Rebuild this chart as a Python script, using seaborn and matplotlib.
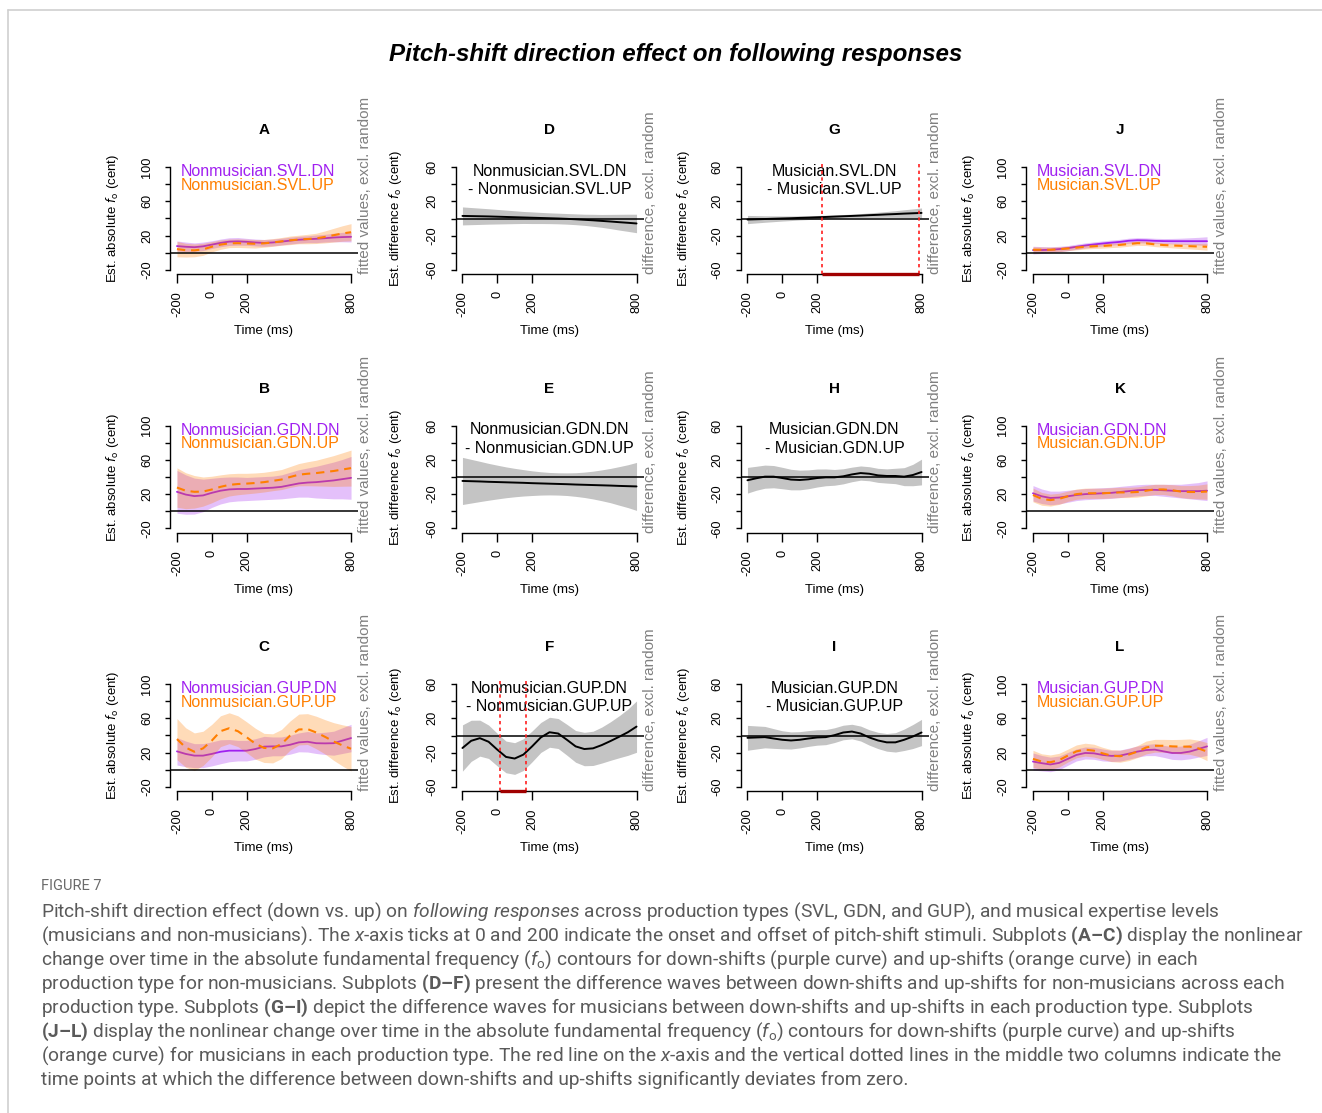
import matplotlib
matplotlib.use("Agg")
import matplotlib.pyplot as plt
from matplotlib.lines import Line2D
import seaborn as sns

sns.set_theme(style="white")
plt.rcParams["font.family"] = ["Liberation Sans", "DejaVu Sans"]
plt.rcParams["mathtext.fontset"] = "custom"
plt.rcParams["mathtext.rm"] = "Roboto"
plt.rcParams["mathtext.it"] = "Roboto:italic"
plt.rcParams["mathtext.bf"] = "Roboto:bold"
plt.rcParams["text.color"] = "black"

# ---- data ----
time_ms = [-200, -150, -100, -50, 0, 50, 100, 150, 200, 250, 300,
           350, 400, 450, 500, 550, 600, 650, 700, 750, 800]

# A: Nonmusician SVL
a_dn_fit = [7.8, 7.0, 6.5, 7.5, 9.5, 11.5, 13.0, 13.3, 12.8, 12.0, 11.5, 12.0, 13.0, 14.2, 15.2, 15.8, 16.3, 17.0, 17.8, 18.3, 18.6]
a_dn_ci = [6.0, 5.5, 5.0, 5.0, 4.5, 4.5, 4.5, 4.5, 4.0, 4.0, 4.0, 4.0, 4.0, 4.0, 4.0, 4.0, 4.5, 4.5, 5.0, 5.5, 6.0]
a_up_fit = [4.3, 3.0, 2.8, 4.0, 7.0, 9.5, 11.0, 11.2, 10.8, 10.5, 11.0, 12.0, 13.3, 14.5, 15.5, 16.0, 16.8, 18.5, 20.5, 22.5, 24.0]
a_up_ci = [9.0, 8.0, 7.5, 7.0, 6.0, 5.5, 5.0, 5.0, 5.0, 5.0, 4.5, 4.5, 4.5, 5.0, 5.0, 5.5, 6.0, 7.0, 8.0, 9.0, 10.0]

# B: Nonmusician GDN
b_dn_fit = [22.7, 19.5, 17.7, 18.5, 21.5, 24.0, 25.5, 26.0, 26.0, 26.5, 27.0, 27.5, 28.5, 30.5, 32.5, 33.5, 34.0, 35.0, 36.0, 37.5, 39.0]
b_dn_ci = [25, 23, 21, 19, 17, 15.5, 14.5, 14, 13.5, 13.5, 13.5, 13.5, 14, 15, 16, 17, 18.5, 20, 21.5, 23, 25]
b_up_fit = [27.7, 24.0, 22.7, 23.0, 25.4, 28.5, 30.8, 31.8, 32.3, 33.0, 34.0, 35.5, 37.0, 40.0, 42.7, 43.8, 44.6, 45.8, 47.0, 48.7, 50.4]
b_up_ci = [23, 21, 19, 17, 15.5, 14, 13, 12.5, 12, 11.7, 11.5, 11.5, 11.7, 12.2, 13, 14, 15, 16.5, 18, 19.5, 21]

# C: Nonmusician GUP
c_dn_fit = [21.5, 18.5, 16.5, 16.5, 18.5, 21.0, 22.3, 22.3, 22.3, 24.2, 27.0, 27.3, 27.3, 29.2, 32.0, 32.7, 31.0, 30.8, 31.0, 34.0, 37.0]
c_dn_ci = [16, 15, 14, 14, 14, 14, 13, 12, 12, 12, 12, 11, 11, 11, 11, 12, 12, 13, 14, 15, 16]
c_up_fit = [35.8, 26.0, 21.0, 25.0, 34.0, 45.0, 48.5, 45.0, 38.0, 30.5, 25.5, 25.0, 30.0, 40.0, 47.0, 47.5, 43.5, 38.5, 33.0, 28.5, 24.5]
c_up_ci = [24, 23, 22, 20, 19, 18, 18, 18, 18, 18, 17, 17, 17, 17, 18, 18, 19, 20, 22, 24, 26]

# D, E, F: Nonmusician DN - UP
d_fit = [3.0, 2.8, 2.6, 2.4, 2.1, 1.8, 1.5, 1.2, 0.9, 0.6, 0.3, 0.0, -0.4, -0.9, -1.5, -2.1, -2.8, -3.5, -4.3, -5.0, -5.8]
d_ci = [10.5, 10, 9.5, 9, 8.5, 8, 7.5, 7, 6.8, 6.5, 6.3, 6.2, 6.2, 6.3, 6.5, 7, 7.5, 8.3, 9.2, 10, 10.8]
e_fit = [-4.6, -4.9, -5.2, -5.6, -5.9, -6.2, -6.5, -6.8, -7.2, -7.5, -7.8, -8.1, -8.4, -8.8, -9.1, -9.4, -9.7, -10.0, -10.4, -10.7, -11.0]
e_ci = [27.5, 25.5, 23.5, 21.5, 19.7, 18, 16.6, 15.4, 14.4, 13.6, 13.1, 13, 13.2, 13.8, 14.8, 16.2, 18, 20, 22.5, 25, 28]
f_fit = [-14.6, -6.2, -3.1, -7.3, -16.5, -25.0, -26.9, -22.3, -12.7, -2.3, 3.8, 2.3, -5.0, -12.7, -15.8, -15.0, -11.2, -6.5, -1.5, 3.8, 10.4]
f_ci = [27, 24, 21, 19.5, 19, 18.5, 18.5, 18.5, 18, 17.5, 17.5, 17.5, 18, 18.5, 19.5, 20, 21, 22.5, 24.5, 27, 30]

# G, H, I: Musician DN - UP
g_fit = [-1.2, -0.9, -0.6, -0.3, 0.0, 0.3, 0.7, 1.0, 1.4, 1.8, 2.2, 2.6, 3.0, 3.4, 3.9, 4.3, 4.8, 5.2, 5.7, 6.1, 6.5]
g_ci = [4.8, 4.3, 3.8, 3.4, 3.0, 2.7, 2.4, 2.2, 2.1, 2.0, 2.0, 2.0, 2.1, 2.3, 2.6, 3.0, 3.4, 3.9, 4.5, 5.1, 5.8]
h_fit = [-3.8, -1.5, 0.4, 0.4, -1.2, -3.0, -3.5, -2.7, -1.2, -0.4, -0.4, 0.8, 3.0, 4.6, 3.8, 1.9, 1.2, 1.2, 0.4, 2.3, 5.8]
h_ci = [15, 14, 13.5, 13, 12.5, 12, 11.5, 11, 10.5, 9.8, 9.2, 8.8, 8.5, 8.3, 8.2, 8.2, 8.3, 9, 10.5, 12.5, 15]
i_fit = [-2.7, -2.3, -1.9, -3.5, -5.0, -5.8, -5.0, -3.5, -2.3, -1.9, 0.4, 3.5, 4.6, 2.3, -2.3, -5.8, -8.0, -8.0, -5.0, -1.2, 3.5]
i_ci = [14.5, 13.5, 12.5, 11.5, 10.5, 10, 9.5, 9.2, 9, 8.8, 8.6, 8.5, 8.5, 8.7, 9, 9.5, 10.3, 11.3, 12.5, 14, 15.3]

# J: Musician SVL
j_dn_fit = [3.1, 3.2, 3.5, 4.3, 5.4, 7.0, 8.5, 9.7, 10.8, 11.8, 12.7, 14.0, 14.6, 14.4, 13.9, 13.6, 13.5, 13.5, 13.5, 13.5, 13.5]
j_dn_ci = [4.5, 4, 3.5, 3.2, 3, 3, 3, 3, 3, 3, 3, 3, 3, 3, 3, 3, 3.2, 3.5, 4, 4.5, 5.2]
j_up_fit = [3.5, 3.5, 3.5, 4.1, 5.0, 6.0, 7.0, 7.6, 8.0, 8.6, 9.2, 10.2, 11.2, 11.0, 9.8, 9.0, 8.5, 8.1, 7.7, 7.3, 7.0]
j_up_ci = [3.5, 3.2, 3, 2.8, 2.6, 2.6, 2.6, 2.6, 2.6, 2.6, 2.6, 2.6, 2.6, 2.6, 2.6, 2.6, 2.8, 3, 3.2, 3.5, 4]

# K: Musician GDN
k_dn_fit = [21.0, 17.5, 15.5, 16.0, 17.5, 19.0, 20.0, 20.5, 21.0, 21.5, 22.5, 23.5, 24.5, 25.0, 25.0, 24.5, 24.0, 23.5, 23.5, 23.5, 24.0]
k_dn_ci = [9, 8.5, 8, 7.5, 7, 6.5, 6.5, 6.5, 6.5, 6.5, 6.5, 6.5, 6.5, 6.5, 6.5, 7, 7.5, 8, 9, 10, 11.5]
k_up_fit = [19.0, 14.5, 13.0, 14.5, 17.5, 20.0, 21.0, 21.0, 21.0, 21.5, 22.0, 22.0, 22.5, 24.0, 25.5, 25.5, 24.5, 23.0, 22.5, 22.5, 23.0]
k_up_ci = [8, 7.5, 7, 6.5, 6, 6, 6, 6, 6, 6, 6, 6, 6, 6, 6, 6, 6.5, 7, 7.5, 8, 9]

# L: Musician GUP
l_dn_fit = [9.6, 7.7, 6.2, 8.0, 12.7, 17.3, 19.6, 19.2, 17.3, 16.2, 16.5, 18.8, 21.2, 23.0, 23.5, 21.5, 19.6, 19.6, 21.2, 24.2, 27.3]
l_dn_ci = [10, 9, 8.5, 8, 7.5, 7, 7, 7, 7, 6.5, 6.5, 6.5, 6.5, 6.5, 7, 7, 7.5, 8, 8.5, 9.5, 10.5]
l_up_fit = [12.7, 9.6, 8.8, 11.2, 16.5, 21.5, 23.5, 22.3, 19.2, 16.5, 15.8, 17.7, 21.2, 26.0, 28.0, 28.0, 27.3, 27.0, 27.0, 25.0, 21.2]
l_up_ci = [10, 9, 8.5, 8, 7.5, 7.5, 7.5, 7.5, 7, 7, 7, 7, 7, 7.5, 7.5, 7.5, 8, 8.5, 9, 9.5, 10.5]

# significant DN-UP intervals (ms)
sig_f = [15, 165]
sig_g = [230, 785]

x_ticks = [-200, 0, 200, 800]

# ---- styling ----
W, H = 1322, 1113
PURPLE = "#a020f0"
ORANGE = "#ff7f00"
BAND_GRAY = "#c4c4c4"
SIDE_GRAY = "#808080"
CAPTION_FONT = ["Roboto", "DejaVu Sans"]

fig = plt.figure(figsize=(W / 100, H / 100), dpi=100)
fig.patch.set_facecolor("white")

col_left = [170, 455.5, 740.5, 1026]
row_top = [163, 421.5, 680]
ax_w, ax_h = 188, 111


def make_axes(col, row):
    left = col_left[col]
    top = row_top[row]
    return fig.add_axes([left / W, 1 - (top + ax_h) / H, ax_w / W, ax_h / H])


def style_axes(ax, kind, letter, col):
    ax.set_facecolor("none")
    ax.grid(False)
    ax.set_xlim(-240, 840)
    if kind == "abs":
        ax.set_ylim(-24.8, 104.8)
        yt = [-20, 0, 20, 40, 60, 80, 100]
        ylab = [str(v) if v in (-20, 20, 60, 100) else "" for v in yt]
        ylabel = r"Est. absolute $f_{\rm o}$ (cent)"
        side = "fitted values, excl. random"
    else:
        ax.set_ylim(-64.8, 64.8)
        yt = [-60, -40, -20, 0, 20, 40, 60]
        ylab = [str(v) if v in (-60, -20, 20, 60) else "" for v in yt]
        ylabel = r"Est. difference $f_{\rm o}$ (cent)"
        side = "difference, excl. random"
    ax.set_yticks(yt)
    ax.set_yticklabels(ylab)
    ax.set_xticks(x_ticks)
    ax.set_xticklabels([str(v) for v in x_ticks])
    for s in ["top", "right"]:
        ax.spines[s].set_visible(False)
    for s in ["left", "bottom"]:
        ax.spines[s].set_color("black")
        ax.spines[s].set_linewidth(1.0)
    ax.spines["left"].set_bounds(yt[0], yt[-1])
    ax.spines["bottom"].set_bounds(-200, 800)
    ax.tick_params(axis="y", left=True, direction="out", length=3.8, width=1.0,
                   color="black", labelcolor="black", labelsize=9.2,
                   labelrotation=90, pad=8.5)
    ax.tick_params(axis="x", bottom=True, direction="out", length=6.5, width=1.0,
                   color="black", labelcolor="black", labelsize=9.2,
                   labelrotation=90, pad=6)
    for lab in ax.get_yticklabels():
        lab.set_va("center")
    ax.set_xlabel("")
    ax.set_ylabel("")
    ax.axhline(0, color="black", lw=1.1, zorder=4)

    ylab_x = -0.32 if col == 1 else -0.305
    ax.text(ylab_x, 0.5, ylabel, transform=ax.transAxes, rotation=90,
            ha="center", va="center", fontsize=9.5)
    ax.text(0.5, -0.514, "Time (ms)", transform=ax.transAxes,
            ha="center", va="center", fontsize=9.5)
    ax.text(0.5, 1.297, letter, transform=ax.transAxes, ha="center",
            va="center", fontsize=11, fontweight="bold")
    ax.text(1.037, 0.0, side, transform=ax.transAxes, rotation=90,
            ha="center", va="bottom", fontsize=11, color=SIDE_GRAY)


def draw_abs(ax, dn_fit, dn_ci, up_fit, up_ci, dn_name, up_name):
    dn_lo = [f - c for f, c in zip(dn_fit, dn_ci)]
    dn_hi = [f + c for f, c in zip(dn_fit, dn_ci)]
    up_lo = [f - c for f, c in zip(up_fit, up_ci)]
    up_hi = [f + c for f, c in zip(up_fit, up_ci)]
    ax.fill_between(time_ms, dn_lo, dn_hi, color=PURPLE, alpha=0.28, lw=0, zorder=1)
    sns.lineplot(x=time_ms, y=dn_fit, ax=ax, color=PURPLE, lw=1.3, zorder=2)
    ax.fill_between(time_ms, up_lo, up_hi, color=ORANGE, alpha=0.28, lw=0, zorder=3)
    sns.lineplot(x=time_ms, y=up_fit, ax=ax, color=ORANGE, lw=1.5,
                 dashes=False, linestyle=(0, (4, 2.8)), zorder=5)
    ax.text(0.055, 0.919, dn_name, transform=ax.transAxes, ha="left",
            va="center", fontsize=11.5, color=PURPLE)
    ax.text(0.055, 0.80, up_name, transform=ax.transAxes, ha="left",
            va="center", fontsize=11.5, color=ORANGE)


def draw_diff(ax, fit, ci, name1, name2, sig=None):
    lo = [f - c for f, c in zip(fit, ci)]
    hi = [f + c for f, c in zip(fit, ci)]
    ax.fill_between(time_ms, lo, hi, color=BAND_GRAY, lw=0, zorder=1)
    sns.lineplot(x=time_ms, y=fit, ax=ax, color="black", lw=1.4, zorder=5)
    ax.text(0.5, 0.925, name1, transform=ax.transAxes, ha="center",
            va="center", fontsize=11.5)
    ax.text(0.5, 0.76, "- " + name2, transform=ax.transAxes, ha="center",
            va="center", fontsize=11.5)
    if sig is not None:
        for t in sig:
            ax.axvline(t, color="#ff2020", lw=1.2, linestyle=(0, (2, 2)), zorder=6)
        ybot = ax.get_ylim()[0]
        ax.plot(sig, [ybot, ybot], color="#a00000", lw=2.4, clip_on=False,
                solid_capstyle="butt", zorder=7)


abs_panels = [
    (0, 0, "A", a_dn_fit, a_dn_ci, a_up_fit, a_up_ci, "Nonmusician.SVL"),
    (0, 1, "B", b_dn_fit, b_dn_ci, b_up_fit, b_up_ci, "Nonmusician.GDN"),
    (0, 2, "C", c_dn_fit, c_dn_ci, c_up_fit, c_up_ci, "Nonmusician.GUP"),
    (3, 0, "J", j_dn_fit, j_dn_ci, j_up_fit, j_up_ci, "Musician.SVL"),
    (3, 1, "K", k_dn_fit, k_dn_ci, k_up_fit, k_up_ci, "Musician.GDN"),
    (3, 2, "L", l_dn_fit, l_dn_ci, l_up_fit, l_up_ci, "Musician.GUP"),
]
diff_panels = [
    (1, 0, "D", d_fit, d_ci, "Nonmusician.SVL", None),
    (1, 1, "E", e_fit, e_ci, "Nonmusician.GDN", None),
    (1, 2, "F", f_fit, f_ci, "Nonmusician.GUP", sig_f),
    (2, 0, "G", g_fit, g_ci, "Musician.SVL", sig_g),
    (2, 1, "H", h_fit, h_ci, "Musician.GDN", None),
    (2, 2, "I", i_fit, i_ci, "Musician.GUP", None),
]

for col, row, letter, dnf, dnc, upf, upc, base in abs_panels:
    ax = make_axes(col, row)
    style_axes(ax, "abs", letter, col)
    draw_abs(ax, dnf, dnc, upf, upc, base + ".DN", base + ".UP")

for col, row, letter, fit, ci, base, sig in diff_panels:
    ax = make_axes(col, row)
    style_axes(ax, "diff", letter, col)
    draw_diff(ax, fit, ci, base + ".DN", base + ".UP", sig)

# title
fig.text(676 / W, 1 - 54 / H, "Pitch-shift direction effect on following responses",
         ha="center", va="center", fontsize=17.4, fontweight="bold",
         fontstyle="italic")

# card frame
fig.add_artist(Line2D([8 / W, 1.0], [1 - 10 / H, 1 - 10 / H], color="#cfcfcf", lw=1.2))
fig.add_artist(Line2D([8 / W, 8 / W], [0.0, 1 - 10 / H], color="#cfcfcf", lw=1.2))

# caption
fig.text(41 / W, 1 - 886 / H, "FIGURE 7", ha="left", va="center",
         fontsize=10.5, color="#6a6a6a", family=CAPTION_FONT)

caption_lines = [
    r"Pitch-shift direction effect (down vs. up) on $\it{following\ responses}$ across production types (SVL, GDN, and GUP), and musical expertise levels",
    r"(musicians and non-musicians). The $x$-axis ticks at 0 and 200 indicate the onset and offset of pitch-shift stimuli. Subplots $\bf{(A–C)}$ display the nonlinear",
    r"change over time in the absolute fundamental frequency ($f_{\rm o}$) contours for down-shifts (purple curve) and up-shifts (orange curve) in each",
    r"production type for non-musicians. Subplots $\bf{(D–F)}$ present the difference waves between down-shifts and up-shifts for non-musicians across each",
    r"production type. Subplots $\bf{(G–I)}$ depict the difference waves for musicians between down-shifts and up-shifts in each production type. Subplots",
    r"$\bf{(J–L)}$ display the nonlinear change over time in the absolute fundamental frequency ($f_{\rm o}$) contours for down-shifts (purple curve) and up-shifts",
    r"(orange curve) for musicians in each production type. The red line on the $x$-axis and the vertical dotted lines in the middle two columns indicate the",
    r"time points at which the difference between down-shifts and up-shifts significantly deviates from zero.",
]
for i, line in enumerate(caption_lines):
    fig.text(41 / W, 1 - (912 + 24 * i) / H, line, ha="left", va="center",
             fontsize=13.8, color="#5a5a5a", family=CAPTION_FONT)

fig.savefig("out.png", dpi=100, facecolor="white")
